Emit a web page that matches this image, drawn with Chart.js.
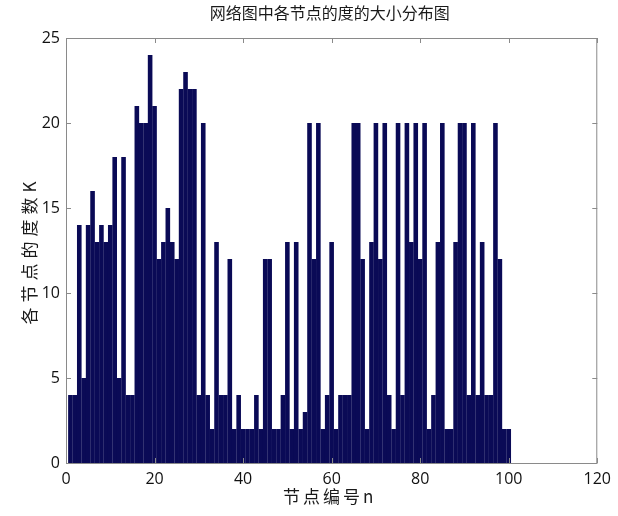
<!DOCTYPE html>
<html>
<head>
<meta charset="utf-8">
<title>节点度分布</title>
<script src="https://cdn.jsdelivr.net/npm/chart.js@4.4.1/dist/chart.umd.min.js"></script>
<style>
  html, body { margin: 0; padding: 0; background: #fff; }
</style>
</head>
<body>
<canvas id="degreeChart" width="618" height="516"></canvas>
<script>
// node numbers and the degree k of each node
const nodes = [
  1, 2, 3, 4, 5, 6, 7, 8, 9, 10,
  11, 12, 13, 14, 15, 16, 17, 18, 19, 20,
  21, 22, 23, 24, 25, 26, 27, 28, 29, 30,
  31, 32, 33, 34, 35, 36, 37, 38, 39, 40,
  41, 42, 43, 44, 45, 46, 47, 48, 49, 50,
  51, 52, 53, 54, 55, 56, 57, 58, 59, 60,
  61, 62, 63, 64, 65, 66, 67, 68, 69, 70,
  71, 72, 73, 74, 75, 76, 77, 78, 79, 80,
  81, 82, 83, 84, 85, 86, 87, 88, 89, 90,
  91, 92, 93, 94, 95, 96, 97, 98, 99, 100
];
const degrees = [
  4, 4, 14, 5, 14, 16, 13, 14, 13, 14,
  18, 5, 18, 4, 4, 21, 20, 20, 24, 21,
  12, 13, 15, 13, 12, 22, 23, 22, 22, 4,
  20, 4, 2, 13, 4, 4, 12, 2, 4, 2,
  2, 2, 4, 2, 12, 12, 2, 2, 4, 13,
  2, 13, 2, 3, 20, 12, 20, 2, 4, 13,
  2, 4, 4, 4, 20, 20, 12, 2, 13, 20,
  12, 20, 4, 2, 20, 4, 20, 13, 20, 12,
  20, 2, 4, 13, 20, 2, 2, 13, 20, 20,
  4, 20, 4, 13, 4, 4, 20, 12, 2, 2
];
const xTicks = [0, 20, 40, 60, 80, 100, 120];
const yTicks = [0, 5, 10, 15, 20, 25];

const chartTitle = '网络图中各节点的度的大小分布图';
const xLabel = '节点编号n';
const yLabel = '各节点的度数K';

const cjkFont = '"Noto Sans CJK SC", "Noto Sans", sans-serif';
const numFont = '"Open Sans", "Liberation Sans", sans-serif';

// box around the axes, inward tick marks and the Chinese labels
const frameAndLabels = {
  id: 'frameAndLabels',
  afterDraw(chart) {
    const { ctx, chartArea: a, scales: { x, y } } = chart;
    ctx.save();
    ctx.strokeStyle = '#8a8a8a';
    ctx.lineWidth = 1;
    ctx.strokeRect(a.left + 0.5, a.top + 0.5, a.right - a.left - 1, a.bottom - a.top);

    ctx.beginPath();
    xTicks.forEach(v => {
      const px = Math.round(x.getPixelForValue(v)) + 0.5;
      ctx.moveTo(px, a.bottom); ctx.lineTo(px, a.bottom - 5);
      ctx.moveTo(px, a.top); ctx.lineTo(px, a.top + 5);
    });
    yTicks.forEach(v => {
      const py = Math.round(y.getPixelForValue(v)) + 0.5;
      ctx.moveTo(a.left, py); ctx.lineTo(a.left + 5, py);
      ctx.moveTo(a.right, py); ctx.lineTo(a.right - 5, py);
    });
    ctx.stroke();

    const cx = (a.left + a.right) / 2;
    ctx.fillStyle = '#1a1a1a';
    ctx.textAlign = 'center';
    ctx.textBaseline = 'middle';

    ctx.font = '16px ' + cjkFont;
    ctx.fillText(chartTitle, cx - 2, 13);

    ctx.font = '17px ' + cjkFont;
    ctx.letterSpacing = '3px';
    ctx.fillText(xLabel, cx - 2, 497);

    ctx.letterSpacing = '5px';
    ctx.translate(30, (a.top + a.bottom) / 2);
    ctx.rotate(-Math.PI / 2);
    ctx.fillText(yLabel, 0, 0);
    ctx.restore();
  }
};

const ctx = document.getElementById('degreeChart').getContext('2d');
new Chart(ctx, {
  type: 'bar',
  data: {
    datasets: [{
      data: nodes.map((n, i) => ({ x: n, y: degrees[i] })),
      backgroundColor: '#0a0a56',
      borderWidth: 0,
      barPercentage: 1.04,
      categoryPercentage: 1
    }]
  },
  options: {
    responsive: false,
    animation: false,
    devicePixelRatio: 1,
    layout: { padding: { top: 38, right: 17, left: 0, bottom: 0 } },
    plugins: {
      legend: { display: false },
      tooltip: { enabled: false }
    },
    scales: {
      x: {
        type: 'linear',
        min: 0,
        max: 120,
        offset: false,
        afterBuildTicks: scale => { scale.ticks = xTicks.map(v => ({ value: v })); },
        afterFit: scale => { scale.height = 53; },
        grid: { display: false, drawTicks: false },
        border: { display: false },
        ticks: {
          padding: 7,
          color: '#111',
          font: { family: numFont, size: 16 }
        }
      },
      y: {
        min: 0,
        max: 25,
        afterBuildTicks: scale => { scale.ticks = yTicks.map(v => ({ value: v })); },
        afterFit: scale => { scale.width = 66; },
        grid: { display: false, drawTicks: false },
        border: { display: false },
        ticks: {
          padding: 6,
          color: '#111',
          font: { family: numFont, size: 16 }
        }
      }
    }
  },
  plugins: [frameAndLabels]
});
</script>
</body>
</html>
